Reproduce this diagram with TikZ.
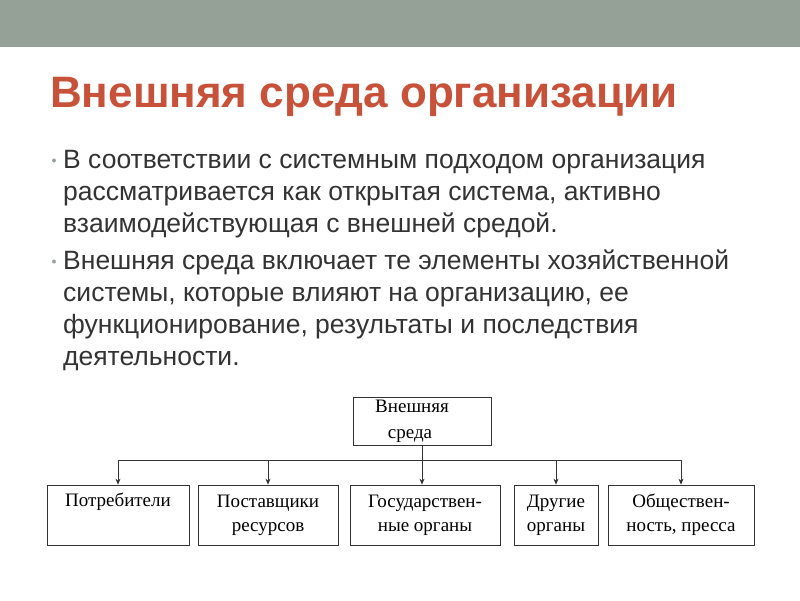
\documentclass[tikz,border=0pt]{standalone}
\usepackage{fontspec}
\setmainfont{Liberation Serif}
\newfontfamily\arial{Liberation Sans}
\usetikzlibrary{arrows.meta}
\definecolor{bar}{HTML}{95A197}
\definecolor{ttl}{HTML}{C8513A}
\definecolor{txt}{HTML}{333333}
\tikzset{box/.style={draw=black!80,line width=0.8pt,align=center,font=\fontsize{19}{24}\selectfont,inner sep=0pt},
 bl/.style={anchor=base west,font=\arial\fontsize{26.5}{30}\selectfont,text=txt,inner sep=0pt},
 arr/.style={draw=black!80,line width=0.7pt,-{Stealth[length=6pt,width=5pt]}}}
\begin{document}
\begin{tikzpicture}[x=1pt,y=-1pt]
\useasboundingbox (0,0) rectangle (800,600);
\fill[bar] (0,0) rectangle (800,47);
\node[anchor=base west,inner sep=0pt,font=\arial\bfseries\fontsize{44}{50}\selectfont,text=ttl] (title) at (50,107) {Внешняя среда организации};
\node[text=bar,font=\fontsize{10}{10}\selectfont,inner sep=0pt] (b1) at (54,161) {$\bullet$};
\node[text=bar,font=\fontsize{10}{10}\selectfont,inner sep=0pt] (b2) at (54,262) {$\bullet$};
\node[bl] (l1) at (63,168) {В соответствии с системным подходом организация};
\node[bl] (l2) at (63,200) {рассматривается как открытая система, активно};
\node[bl] (l3) at (63,232) {взаимодействующая с внешней средой.};
\node[bl] (l4) at (63,269) {Внешняя среда включает те элементы хозяйственной};
\node[bl] (l5) at (63,301) {системы, которые влияют на организацию, ее};
\node[bl] (l6) at (63,333) {функционирование, результаты и последствия};
\node[bl] (l7) at (63,365) {деятельности.};
\node[box,minimum width=138pt,minimum height=48pt] (top) at (422,421) {\hspace*{-20pt}Внешняя\\[2pt]среда\hspace*{24pt}};
\node[box,minimum width=142pt,minimum height=60pt] (n1) at (118,515) {Потребители\\[0pt]\strut};
\node[box,minimum width=140pt,minimum height=60pt] (n2) at (268,515) {Поставщики\\ресурсов};
\node[box,minimum width=150pt,minimum height=60pt] (n3) at (425,515) {Государствен-\\ные органы};
\node[box,minimum width=84pt,minimum height=60pt] (n4) at (556,515) {Другие\\органы};
\node[box,minimum width=146pt,minimum height=60pt] (n5) at (681,515) {Обществен-\\ность, пресса};
\coordinate (j) at (422,460);
\draw[arr] (top.south) -- (n3.north -| top.south);
\draw[draw=black!80,line width=0.7pt] (j -| n1.north) -- (j -| n5.north);
\draw[arr] (j -| n1.north) -- (n1.north);
\draw[arr] (j -| n2.north) -- (n2.north);
\draw[arr] (j -| n4.north) -- (n4.north);
\draw[arr] (j -| n5.north) -- (n5.north);
\end{tikzpicture}
\end{document}
